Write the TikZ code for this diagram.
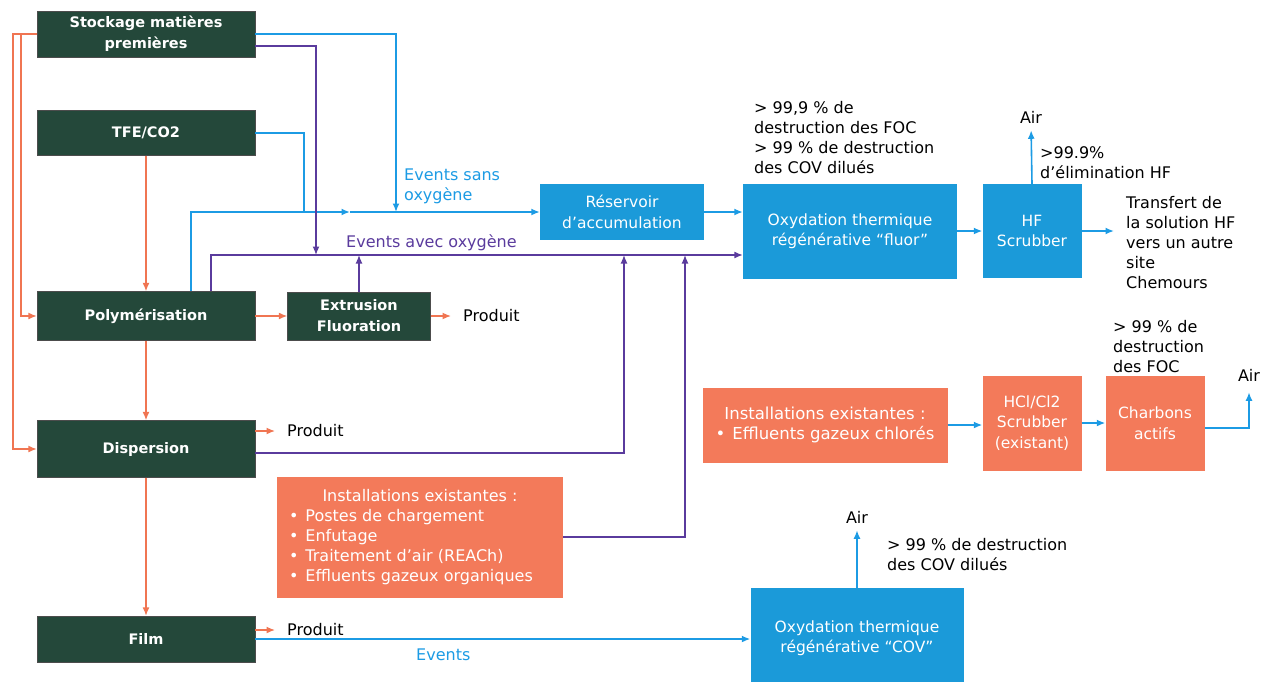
\documentclass[tikz,border=0pt]{standalone}
\usepackage{fontspec}
\setmainfont{DejaVu Sans}
\usetikzlibrary{arrows.meta, positioning}

\definecolor{vertfonce}{HTML}{24483A}
\definecolor{bleuboite}{HTML}{1B9AD9}
\definecolor{orangeboite}{HTML}{F37A5A}
\definecolor{traitbleu}{HTML}{1C9BE4}
\definecolor{traitviolet}{HTML}{5A3B9D}
\definecolor{traitorange}{HTML}{F07552}

\begin{document}
\begin{tikzpicture}[x=1pt, y=-1pt,
  every node/.style={inner sep=0pt, font=\fontsize{15.5pt}{20.5pt}\selectfont},
  vert/.style={draw=black!70, fill=vertfonce, text=white, align=center,
    font=\fontsize{14.5pt}{21pt}\selectfont\bfseries},
  bleu/.style={fill=bleuboite, text=white, align=center},
  orng/.style={fill=orangeboite, text=white, align=center},
  lbl/.style={align=left, anchor=west, font=\fontsize{16pt}{20pt}\selectfont},
  fo/.style={draw=traitorange, line width=1.4pt, -{Latex[length=8.5pt,width=7pt]}},
  fb/.style={draw=traitbleu, line width=1.6pt, -{Latex[length=8.5pt,width=7pt]}},
  lb/.style={draw=traitbleu, line width=1.6pt},
  fv/.style={draw=traitviolet, line width=1.4pt, -{Latex[length=8.5pt,width=7pt]}}]

  \useasboundingbox (0,0) rectangle (1262,681);

  % boites vertes
  \node[vert, minimum width=218pt, minimum height=46pt] (stock) at (146,34) {Stockage matières\\premières};
  \node[vert, minimum width=218pt, minimum height=45pt] (tfe)   at (146,133) {TFE/CO2};
  \node[vert, minimum width=218pt, minimum height=49pt] (poly)  at (146,316) {Polymérisation};
  \node[vert, minimum width=143pt, minimum height=48pt] (extr)  at (359,316) {Extrusion\\Fluoration};
  \node[vert, minimum width=218pt, minimum height=57pt] (disp)  at (146,449) {Dispersion};
  \node[vert, minimum width=218pt, minimum height=46pt] (film)  at (146,639) {Film};

  % boites bleues
  \node[bleu, minimum width=164pt, minimum height=56pt]  (res) at (622,212)  {Réservoir\\d’accumulation};
  \node[bleu, minimum width=214pt, minimum height=95pt]  (oxf) at (850,231)  {Oxydation thermique\\régénérative “fluor”};
  \node[bleu, minimum width=99pt,  minimum height=94pt]  (hf)  at (1032,231) {HF\\Scrubber};
  \node[bleu, minimum width=213pt, minimum height=100pt] (oxc) at (857,638)  {Oxydation thermique\\régénérative “COV”};

  % boites orange
  \node[orng, minimum width=245pt, minimum height=75pt, font=\fontsize{16.5pt}{20pt}\selectfont] (chl) at (825,425)
    {Installations existantes :\\•\hspace{7pt}Effluents gazeux chlorés};
  \node[orng, minimum width=99pt, minimum height=95pt] (hcl) at (1032,423) {HCl/Cl2\\Scrubber\\(existant)};
  \node[orng, minimum width=99pt, minimum height=95pt] (cha) at (1155,423) {Charbons\\actifs};
  \node[orng, minimum width=286pt, minimum height=121pt, align=left, font=\fontsize{16pt}{20pt}\selectfont] (inst) at (420,537)
    {\makebox[262pt]{Installations existantes :}\\
     •\hspace{7pt}Postes de chargement\\
     •\hspace{7pt}Enfutage\\
     •\hspace{7pt}Traitement d’air (REACh)\\
     •\hspace{7pt}Effluents gazeux organiques};

  % textes
  \node[lbl, text=traitbleu]   (evsans) at (404,186) {Events sans\\oxygène};
  \node[lbl, text=traitviolet] (evavec) at (346,243) {Events avec oxygène};
  \node[lbl] (prod1) at (463,316) {Produit};
  \node[lbl] (prod2) at (287,431) {Produit};
  \node[lbl] (prod3) at (287,630) {Produit};
  \node[lbl, text=traitbleu] (events) at (416,655) {Events};
  \node[lbl] (foc1)   at (754,138)  {> 99,9 \% de\\destruction des FOC\\> 99 \% de destruction\\des COV dilués};
  \node[lbl, anchor=center] (air1) at (1031,117) {Air};
  \node[lbl] (hf99)   at (1040,163) {>99.9\%\\d’élimination HF};
  \node[lbl] (transf) at (1126,243) {Transfert de\\la solution HF\\vers un autre\\site\\Chemours};
  \node[lbl] (foc2)   at (1113,347) {> 99 \% de\\destruction\\des FOC};
  \node[lbl, anchor=center] (air2) at (1249,375) {Air};
  \node[lbl, anchor=center] (air3) at (857,517)  {Air};
  \node[lbl] (cov99)  at (887,555)  {> 99 \% de destruction\\des COV dilués};

  % flux matiere
  \draw[fo] (stock.west) -- ++(-24,0) |- (disp.west);
  \draw[fo] ([xshift=-16pt]stock.west) |- (poly.west);
  \draw[fo] (tfe) -- (poly);
  \draw[fo] (poly) -- (disp);
  \draw[fo] (disp) -- (film);
  \draw[fo] (poly) -- (extr);
  \draw[fo, shorten >=12pt] (extr.east) -- (prod1.west);
  \draw[fo, shorten >=12pt] (disp.east |- prod2.west) -- (prod2.west);
  \draw[fo, shorten >=12pt] (film.east |- prod3.west) -- (prod3.west);

  % events sans oxygene
  \coordinate (bj1)  at (396,212);
  \coordinate (bj2)  at (304,212);
  \coordinate (bmid) at (350,212);
  \draw[fb] (stock.east) -| (bj1);
  \draw[lb] (tfe.east) -| (bj2);
  \draw[fb] ([xshift=45pt]poly.north) |- (bmid);
  \draw[fb] (bmid) -- (res.west);
  \draw[fb] (res.east) -- (res.east -| oxf.west);
  \draw[fb] (oxf.east) -- (hf.west);
  \draw[fb, shorten >=7pt] (hf.north) -- (air1.south);
  \draw[fb, shorten >=12pt] (hf.east) -- (hf.east -| transf.west);
  \draw[fb] (chl.east) -- (chl.east -| hcl.west);
  \draw[fb] (hcl) -- (cha);
  \draw[fb, shorten >=11pt] ([yshift=-5pt]cha.east) -| (air2.south);
  \draw[fb] (film.east) -- (film.east -| oxc.west);
  \draw[fb, shorten >=7pt] (oxc.north) -- (air3.south);

  % events avec oxygene
  \coordinate (pj1) at (316,255);
  \coordinate (pj3) at (624,255);
  \coordinate (pj4) at (685,255);
  \draw[fv] ([yshift=-12pt]stock.east) -| (pj1);
  \draw[fv] ([xshift=65pt]poly.north) |- ([yshift=-24pt]oxf.west);
  \draw[fv] (extr.north) -- (extr.north |- pj1);
  \draw[fv] ([yshift=-4pt]disp.east) -| (pj3);
  \draw[fv] (inst.east) -| (pj4);
\end{tikzpicture}
\end{document}
